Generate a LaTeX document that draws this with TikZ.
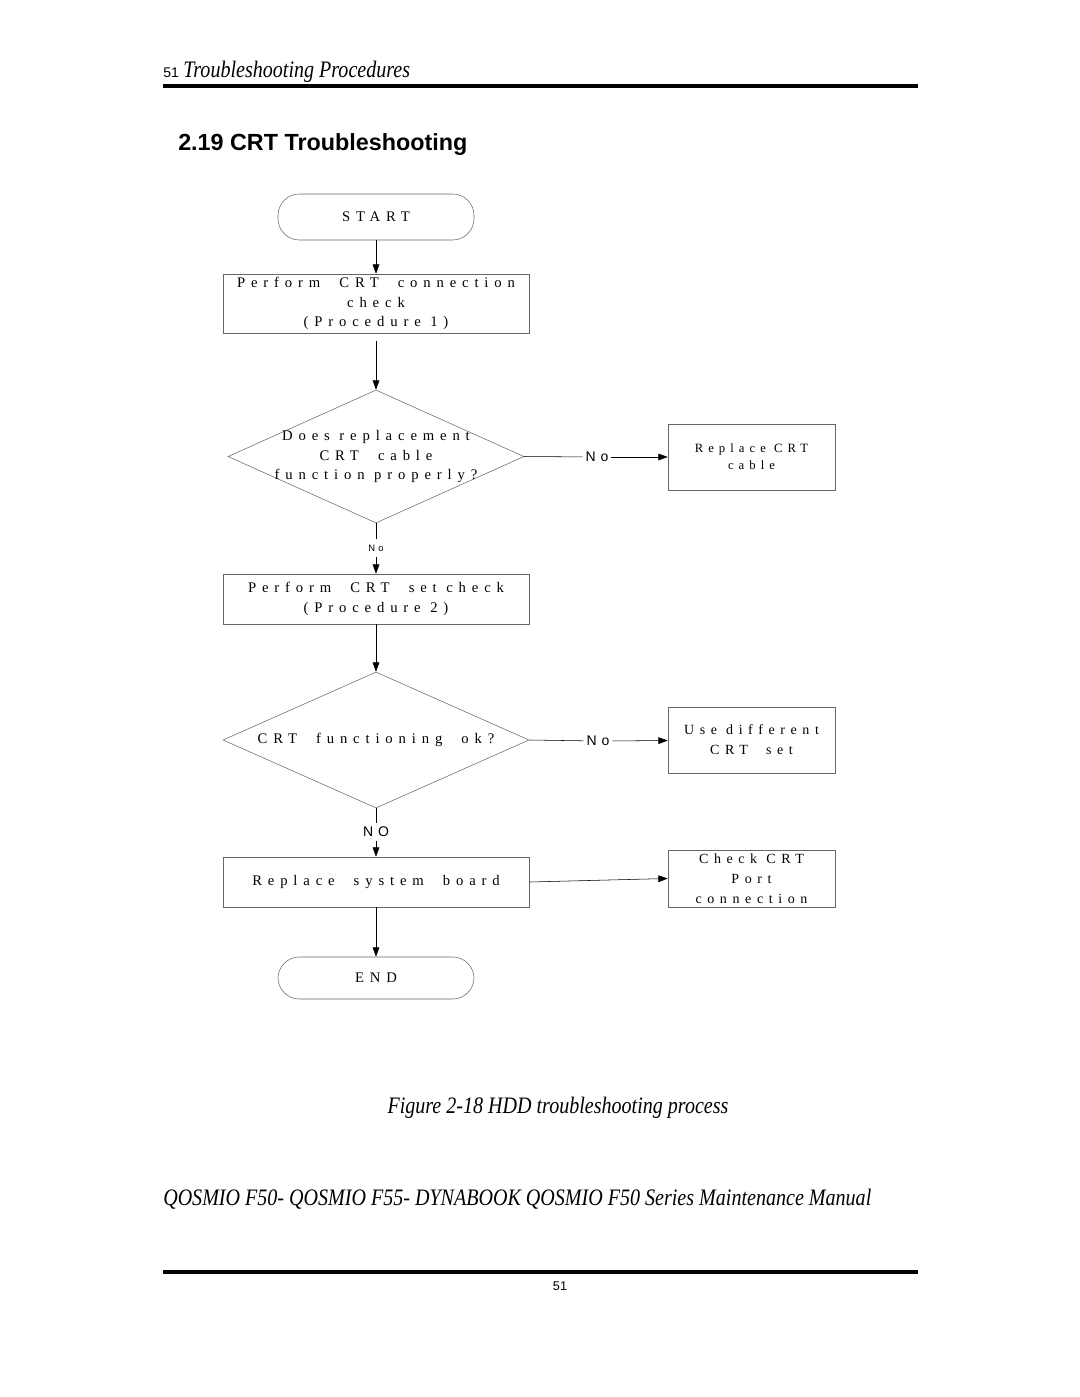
\documentclass[tikz,border=0pt]{standalone}
\usepackage{fontspec}
\setmainfont{Liberation Serif}
\newfontfamily\arial{Liberation Sans}
\newfontfamily\arialsp[LetterSpace=35]{Liberation Sans}
\newfontfamily\flow[LetterSpace=40]{Liberation Serif}
\newfontfamily\narrow[FakeStretch=0.85]{Liberation Serif}
\usetikzlibrary{arrows.meta, positioning, shapes.geometric}

\begin{document}
\begin{tikzpicture}[x=0.75pt, y=-0.75pt]

\tikzset{
  terminal/.style={draw=gray!80!black, rounded corners=16pt, minimum width=147pt, inner sep=0pt, font=\flow\fontsize{11}{14}\selectfont},
  stepbox/.style={rectangle, draw=gray!80!black, minimum width=229.5pt, inner sep=0pt, align=center, font=\flow\fontsize{11}{14.6}\selectfont},
  sidebox/.style={rectangle, draw=gray!80!black, minimum width=125.25pt, minimum height=49.5pt, inner sep=0pt, align=center, font=\flow\fontsize{10.5}{15}\selectfont},
  decision/.style={diamond, draw=gray!80!black, inner sep=0pt},
  dtext/.style={align=center, font=\flow\fontsize{11}{14.6}\selectfont},
  nolabel/.style={font=\arialsp\fontsize{10.5}{12}\selectfont, inner sep=2pt},
  >={Triangle[length=7pt, width=5pt]}
}

\useasboundingbox (0,0) rectangle (1080,1397);

% --- Seitenkopf ---
\node[anchor=base west, inner sep=0pt] (pnum) at (163,77) {\arial\fontsize{10.5}{12}\selectfont 51};
\node[inner sep=0pt, right=3pt of pnum.base east, anchor=base west] (head) {\narrow\itshape\fontsize{17.7}{20}\selectfont Troubleshooting Procedures};
\draw[line width=3pt] (163,86) -- (918,86);
\node[anchor=base west, inner sep=0pt] (title) at (178,150) {\arial\bfseries\fontsize{17.5}{20}\selectfont 2.19 CRT Troubleshooting};

% --- Ablauf ---
\node[terminal, minimum height=34.5pt] (start) at (376,217) {START};
\node[stepbox, minimum height=44.25pt] (chk1) at (376,303.5) {Perform \ CRT \ connection\\check\\(Procedure 1)};
\node[decision, minimum width=222pt, minimum height=99.75pt] (d1) at (376,456.5) {};
\node[dtext] (d1t) at (d1) {Does replacement\\CRT \ cable\\function properly?};
\node[sidebox, font=\flow\fontsize{9.5}{12.75}\selectfont] (rep1) at (751.5,457) {Replace CRT\\cable};
\node[nolabel] (no1) at (597,457) {No};
\node[nolabel, font=\arialsp\fontsize{7}{8}\selectfont, inner sep=4pt] (no2) at (376,548) {No};

\node[stepbox, minimum height=37.5pt] (chk2) at (376,599) {Perform \ CRT \ set check\\(Procedure 2)};
\node[decision, minimum width=229.5pt, minimum height=102pt] (d2) at (376,740) {};
\node[dtext] (d2t) at (d2) {CRT \ functioning \ ok?};
\node[sidebox] (rep2) at (751.5,740) {Use different\\CRT \ set};
\node[nolabel] (no3) at (598,741) {No};
\node[nolabel, inner sep=3pt] (no4) at (376,832) {NO};

\node[stepbox, minimum height=37.5pt] (board) at (376,882) {Replace \ system \ board};
\node[sidebox, minimum height=42.75pt] (port) at (751.5,878.5) {Check CRT\\Port\\connection};
\node[terminal, minimum height=31.5pt] (end) at (376,978) {END};

% --- Kanten ---
\draw[->] (start) -- (chk1);
\draw[->, shorten <=6pt] (chk1) -- (d1);
\draw (d1.east) -- (no1);
\draw[->] (no1) -- (rep1);
\draw (d1.south) -- (no2);
\draw[->] (no2) -- (chk2);
\draw[->] (chk2) -- (d2);
\draw (d2.east) -- (no3);
\draw[->] (no3) -- (rep2);
\draw (d2.south) -- (no4);
\draw[->] (no4) -- (board);
\draw[->] (board.east) -- (port.west);
\draw[->] (board) -- (end);

% --- Bildunterschrift / Fusszeile ---
\node[anchor=base, inner sep=0pt] (cap) at (558,1113) {\narrow\itshape\fontsize{17.7}{20}\selectfont Figure 2-18 HDD troubleshooting process};
\node[anchor=base west, inner sep=0pt] (foot) at (163,1205) {\narrow\itshape\fontsize{17.7}{20}\selectfont QOSMIO F50- QOSMIO F55- DYNABOOK QOSMIO F50 Series Maintenance Manual};
\draw[line width=3pt] (163,1272) -- (918,1272);
\node[anchor=base, inner sep=0pt] (fnum) at (560,1290) {\arial\fontsize{9.5}{11}\selectfont 51};

\end{tikzpicture}
\end{document}
